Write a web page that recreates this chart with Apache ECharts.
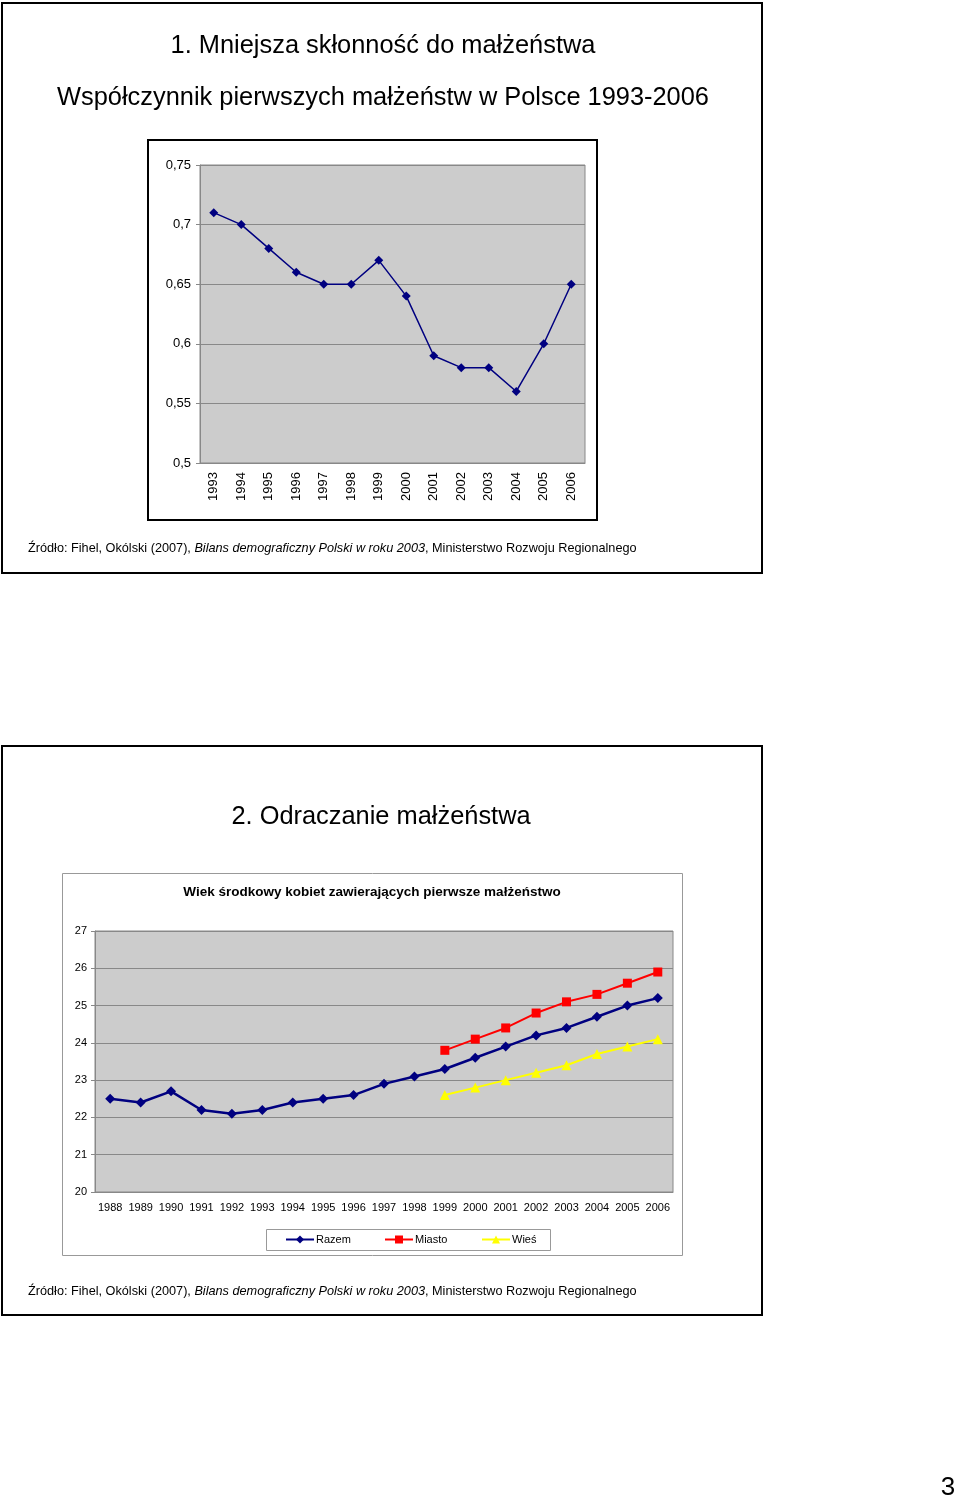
<!DOCTYPE html>
<html>
<head>
<meta charset="utf-8">
<script src="https://cdn.jsdelivr.net/npm/echarts@6/dist/echarts.min.js"></script>
<style>
  html, body { margin: 0; padding: 0; background: #fff; }
  #page { width: 960px; height: 1501px; }
</style>
</head>
<body>
<div id="page"></div>
<script>
// slajd 1: współczynnik pierwszych małżeństw
const years1 = ['1993', '1994', '1995', '1996', '1997', '1998', '1999', '2000', '2001', '2002', '2003', '2004', '2005', '2006'];
const wspolczynnik = [0.71, 0.70, 0.68, 0.66, 0.65, 0.65, 0.67, 0.64, 0.59, 0.58, 0.58, 0.56, 0.60, 0.65];

// slajd 2: wiek środkowy kobiet
const years2 = ['1988', '1989', '1990', '1991', '1992', '1993', '1994', '1995', '1996', '1997', '1998', '1999', '2000', '2001', '2002', '2003', '2004', '2005', '2006'];
const razem = [22.5, 22.4, 22.7, 22.2, 22.1, 22.2, 22.4, 22.5, 22.6, 22.9, 23.1, 23.3, 23.6, 23.9, 24.2, 24.4, 24.7, 25.0, 25.2];
const miasto = ['-', '-', '-', '-', '-', '-', '-', '-', '-', '-', '-', 23.8, 24.1, 24.4, 24.8, 25.1, 25.3, 25.6, 25.9];
const wies = ['-', '-', '-', '-', '-', '-', '-', '-', '-', '-', '-', 22.6, 22.8, 23.0, 23.2, 23.4, 23.7, 23.9, 24.1];

const FONT = 'Liberation Sans, Arial, sans-serif';
const sourceRich = {
  n: { fontFamily: FONT, fontSize: 12.7, fill: '#000' },
  i: { fontFamily: FONT, fontSize: 12.7, fontStyle: 'italic', fill: '#000' }
};
const sourceText = '{n|Źródło: Fihel, Okólski (2007), }{i|Bilans demograficzny Polski w roku 2003}{n|, Ministerstwo Rozwoju Regionalnego}';

const chart = echarts.init(document.getElementById('page'));

const commaLabel = (v) => String(parseFloat(v.toFixed(2))).replace('.', ',');
const legendText = { fontSize: 11, color: '#000', padding: [0, 0, 0, -3] };

chart.setOption({
  animation: false,
  textStyle: { fontFamily: FONT },
  graphic: [
    // ramki slajdów
    { type: 'rect', shape: { x: 2, y: 3, width: 760, height: 570 }, style: { fill: 'none', stroke: '#000', lineWidth: 2 } },
    { type: 'rect', shape: { x: 2, y: 746, width: 760, height: 569 }, style: { fill: 'none', stroke: '#000', lineWidth: 2 } },
    // ramki wykresów
    { type: 'rect', shape: { x: 148, y: 140, width: 449, height: 380 }, style: { fill: 'none', stroke: '#000', lineWidth: 2 } },
    { type: 'rect', shape: { x: 62.5, y: 873.5, width: 620, height: 382 }, style: { fill: 'none', stroke: '#999', lineWidth: 1 } },
    { type: 'rect', shape: { x: 266.5, y: 1229.5, width: 284, height: 21 }, style: { fill: 'none', stroke: '#999', lineWidth: 1 } },
    // tytuły
    { type: 'text', x: 383, y: 46, style: { text: '1. Mniejsza skłonność do małżeństwa', fontFamily: FONT, fontSize: 25.4, fill: '#000', align: 'center', verticalAlign: 'middle' } },
    { type: 'text', x: 383, y: 98, style: { text: 'Współczynnik pierwszych małżeństw w Polsce 1993-2006', fontFamily: FONT, fontSize: 25.4, fill: '#000', align: 'center', verticalAlign: 'middle' } },
    { type: 'text', x: 381, y: 817, style: { text: '2. Odraczanie małżeństwa', fontFamily: FONT, fontSize: 25.4, fill: '#000', align: 'center', verticalAlign: 'middle' } },
    { type: 'text', x: 372, y: 892, style: { text: 'Wiek środkowy kobiet zawierających pierwsze małżeństwo', fontFamily: FONT, fontSize: 13.5, fontWeight: 'bold', fill: '#000', align: 'center', verticalAlign: 'middle' } },
    // źródła
    { type: 'text', x: 28, y: 548, style: { text: sourceText, rich: sourceRich, verticalAlign: 'middle' } },
    { type: 'text', x: 28, y: 1291, style: { text: sourceText, rich: sourceRich, verticalAlign: 'middle' } },
    // numer strony
    { type: 'text', x: 948, y: 1488, style: { text: '3', fontFamily: FONT, fontSize: 26, fill: '#000', align: 'center', verticalAlign: 'middle' } }
  ],
  grid: [
    { left: 200, top: 165, width: 385, height: 298, show: true, backgroundColor: '#cccccc', borderColor: '#888', borderWidth: 1 },
    { left: 95, top: 931, width: 578, height: 261, show: true, backgroundColor: '#cccccc', borderColor: '#888', borderWidth: 1 }
  ],
  legend: [
    { left: 280, top: 1229, itemWidth: 28, itemHeight: 10, data: ['Razem'], textStyle: legendText },
    { left: 379, top: 1229, itemWidth: 28, itemHeight: 10, data: ['Miasto'], textStyle: legendText },
    { left: 476, top: 1229, itemWidth: 28, itemHeight: 10, data: ['Wieś'], textStyle: legendText }
  ],
  xAxis: [
    {
      type: 'category', gridIndex: 0, data: years1,
      axisLine: { lineStyle: { color: '#888' } },
      axisTick: { length: 5, lineStyle: { color: '#888' } },
      axisLabel: { rotate: 90, margin: 9, fontSize: 13, color: '#000', interval: 0 }
    },
    {
      type: 'category', gridIndex: 1, data: years2,
      axisLine: { lineStyle: { color: '#888' } },
      axisTick: { length: 5, lineStyle: { color: '#888' } },
      axisLabel: { margin: 10, fontSize: 11, color: '#000', interval: 0 }
    }
  ],
  yAxis: [
    {
      type: 'value', gridIndex: 0, min: 0.5, max: 0.75, interval: 0.05,
      axisLine: { show: true, lineStyle: { color: '#888' } },
      axisTick: { show: true, length: 4, lineStyle: { color: '#888' } },
      splitLine: { lineStyle: { color: '#888' } },
      axisLabel: { fontSize: 13, color: '#000', margin: 9, formatter: commaLabel }
    },
    {
      type: 'value', gridIndex: 1, min: 20, max: 27, interval: 1,
      axisLine: { show: true, lineStyle: { color: '#888' } },
      axisTick: { show: true, length: 4, lineStyle: { color: '#888' } },
      splitLine: { lineStyle: { color: '#888' } },
      axisLabel: { fontSize: 11, color: '#000', margin: 8 }
    }
  ],
  series: [
    {
      type: 'line', xAxisIndex: 0, yAxisIndex: 0, data: wspolczynnik,
      symbol: 'diamond', symbolSize: 9,
      lineStyle: { color: '#000080', width: 1.5 },
      itemStyle: { color: '#000080' }
    },
    {
      name: 'Razem', type: 'line', xAxisIndex: 1, yAxisIndex: 1, data: razem,
      symbol: 'diamond', symbolSize: 10,
      lineStyle: { color: '#000080', width: 2.5 },
      itemStyle: { color: '#000080' }
    },
    {
      name: 'Miasto', type: 'line', xAxisIndex: 1, yAxisIndex: 1, data: miasto,
      symbol: 'rect', symbolSize: 9,
      lineStyle: { color: '#ff0000', width: 2 },
      itemStyle: { color: '#ff0000' }
    },
    {
      name: 'Wieś', type: 'line', xAxisIndex: 1, yAxisIndex: 1, data: wies,
      symbol: 'triangle', symbolSize: 10,
      lineStyle: { color: '#ffff00', width: 2 },
      itemStyle: { color: '#ffff00' }
    }
  ]
});
</script>
</body>
</html>
